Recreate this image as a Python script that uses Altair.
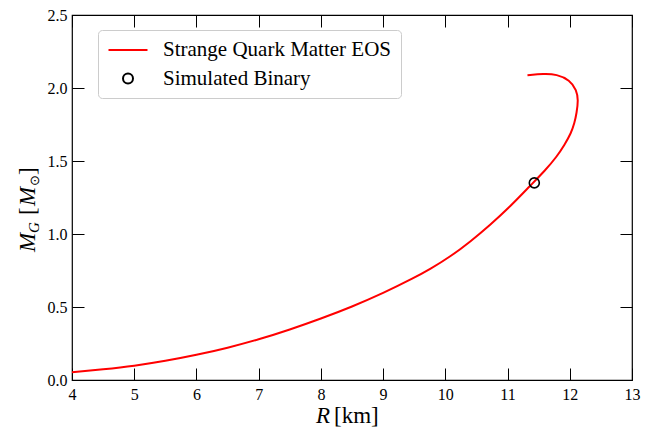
import altair as alt
import pandas as pd

# ---- data ----
R_KM = [4.0, 4.5, 5.0, 5.5, 6.0, 6.5, 7.0, 7.5, 8.0, 8.5, 9.0, 9.5, 9.75, 10.08,
        10.4, 10.72, 11.04, 11.36, 11.61, 11.79, 11.915, 12.02, 12.076, 12.11, 12.137,
        12.11, 12.0, 11.79, 11.58, 11.32]
M_G = [0.053, 0.073, 0.096, 0.13, 0.171, 0.22, 0.277, 0.345, 0.42, 0.502, 0.594,
       0.70, 0.758, 0.845, 0.947, 1.062, 1.187, 1.329, 1.438, 1.529, 1.61, 1.69,
       1.76, 1.829, 1.918, 1.986, 2.055, 2.094, 2.098, 2.087]
BIN_R = [11.43]
BIN_M = [1.35]
SERIES = ["Strange Quark Matter EOS", "Simulated Binary"]
X_TICKS = [4, 5, 6, 7, 8, 9, 10, 11, 12, 13]
Y_TICKS = [0.0, 0.5, 1.0, 1.5, 2.0, 2.5]
X_TITLE = ["R", "[km]"]
Y_TITLE = ["M", "G", "[", "M", "\u2299", "]"]

FONT = "Liberation Serif"
W, H = 560, 365

curve = pd.DataFrame({"R": R_KM, "M": M_G, "i": list(range(len(R_KM))),
                      "series": [SERIES[0]] * len(R_KM)})
binary = pd.DataFrame({"R": BIN_R, "M": BIN_M, "series": [SERIES[1]] * len(BIN_R)})

xs = alt.Scale(domain=[4, 13], nice=False, zero=False)
ys = alt.Scale(domain=[0, 2.5], nice=False, zero=False)

leg = alt.Legend(
    title=None, orient="none", legendX=26, legendY=15,
    fillColor="white", strokeColor="#cccccc", cornerRadius=4, padding=9,
    labelFont=FONT, labelFontSize=21, labelColor="black", labelOffset=24,
    symbolOffset=10, rowPadding=7, labelLimit=400, symbolStrokeWidth=2,
    symbolFillColor="transparent", symbolOpacity=1,
)
color = alt.Color("series:N", scale=alt.Scale(domain=SERIES, range=["#ff0000", "#000000"]),
                  legend=leg)

lab_common = dict(grid=False, domain=False, labelFont=FONT, labelFontSize=16,
                  labelColor="black", title=None, labelFlush=False)
tick_common = dict(grid=False, domain=False, labels=False, ticks=True, tickSize=12,
                   tickColor="black", tickWidth=1, title=None)

line = alt.Chart(curve).mark_line(strokeWidth=2, interpolate="basis").encode(
    x=alt.X("R:Q", scale=xs, axis=alt.Axis(orient="bottom", values=X_TICKS, format="d",
                                          ticks=False, tickSize=0, labelPadding=6, **lab_common)),
    y=alt.Y("M:Q", scale=ys, axis=alt.Axis(orient="left", values=Y_TICKS, format=".1f",
                                          ticks=False, tickSize=0, labelPadding=5, **lab_common)),
    order=alt.Order("i:Q"),
    color=color,
)

pts = alt.Chart(binary).mark_point(filled=False, strokeWidth=1.6, opacity=1).encode(
    x=alt.X("R:Q", scale=xs, axis=alt.Axis(orient="top", offset=-H, values=X_TICKS, **tick_common)),
    y=alt.Y("M:Q", scale=ys, axis=alt.Axis(orient="right", offset=-W, values=Y_TICKS, **tick_common)),
    color=color,
    shape=alt.Shape("series:N", scale=alt.Scale(domain=SERIES, range=["M-2,0H2", "circle"]),
                    legend=leg),
    size=alt.Size("series:N", scale=alt.Scale(domain=SERIES, range=[380, 100]), legend=leg),
)

ghost = alt.Chart(binary).mark_point(opacity=0).encode(
    x=alt.X("R:Q", scale=xs, axis=alt.Axis(orient="bottom", offset=-H, values=X_TICKS, **tick_common)),
    y=alt.Y("M:Q", scale=ys, axis=alt.Axis(orient="left", offset=-W, values=Y_TICKS, **tick_common)),
)


def txt(s, x, y, size, style="normal", angle=0, align="left"):
    return alt.Chart(pd.DataFrame({"t": [s]})).mark_text(
        font=FONT, fontSize=size, fontStyle=style, angle=angle, align=align,
        baseline="alphabetic", color="black",
    ).encode(text="t:N", x=alt.value(x), y=alt.value(y))


titles = [
    txt(X_TITLE[0], 258, 408, 23, "italic", align="right"),
    txt(X_TITLE[1], 262, 408, 23),
    txt(Y_TITLE[0], -37, 237, 23, "italic", angle=270),
    txt(Y_TITLE[1], -33, 218, 15, "italic", angle=270),
    txt(Y_TITLE[2], -37, 200, 23, angle=270),
    txt(Y_TITLE[3], -37, 191, 23, "italic", angle=270),
    txt(Y_TITLE[4], -33, 171, 13, angle=270),
    txt(Y_TITLE[5], -37, 160, 23, angle=270),
]

chart = alt.layer(line, pts, ghost, *titles).resolve_axis(
    x="independent", y="independent"
).properties(
    width=W, height=H,
    autosize=alt.AutoSizeParams(type="none"),
    padding={"left": 72, "top": 15, "right": 21, "bottom": 55},
).configure_view(stroke="black", strokeWidth=1.2)

chart.save("out.html", embed_options={"renderer": "svg", "actions": False})
